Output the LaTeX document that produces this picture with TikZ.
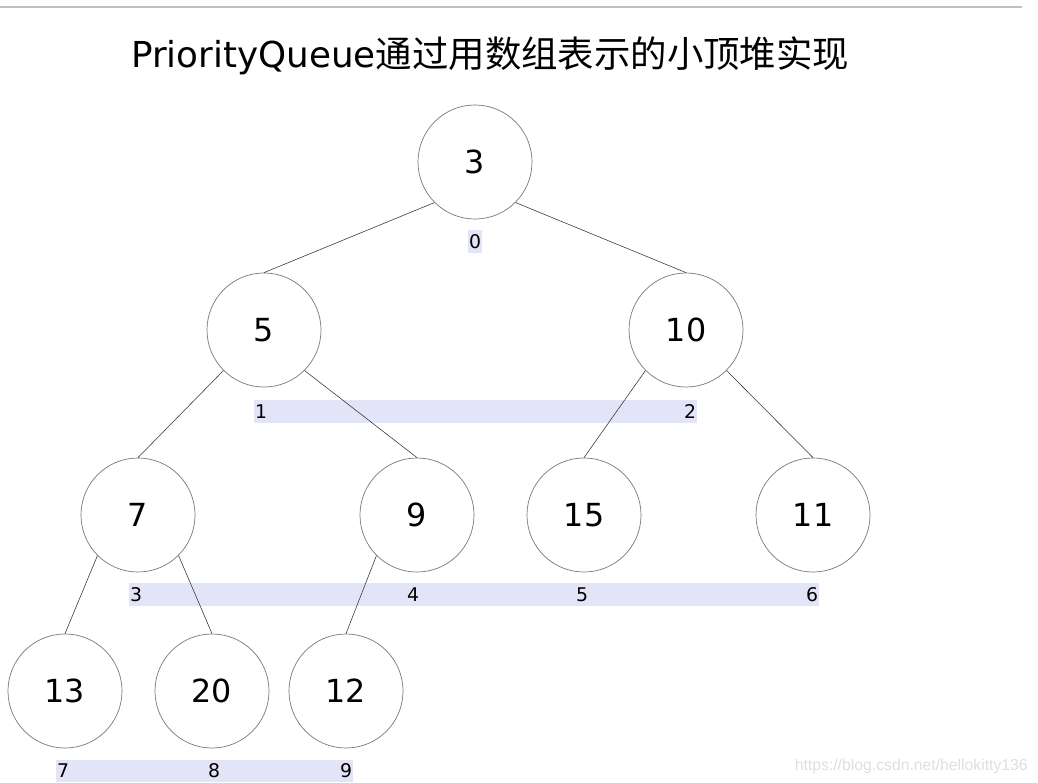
\documentclass[tikz,border=0pt]{standalone}
\usepackage{fontspec}
\setmainfont{DejaVu Sans}
\newfontfamily\cjk{Noto Sans CJK SC}
\newfontfamily\wmfont{Liberation Sans}
\usetikzlibrary{positioning,backgrounds}
\definecolor{barblue}{RGB}{228,228,248}
\definecolor{ringgray}{RGB}{120,120,120}

\begin{document}
\begin{tikzpicture}[
    x=0.025cm, y=-0.025cm,
    heapnode/.style={circle, draw=ringgray, line width=0.5pt, minimum size=2.85cm, inner sep=0pt, font=\fontsize{22.6}{23}\selectfont},
    idx/.style={inner xsep=0.4pt, inner ysep=0pt, minimum height=0.55cm, font=\fontsize{13.4}{14}\selectfont},
    edge/.style={draw=black!80, line width=0.4pt},
    bar/.style={fill=barblue}
]
\useasboundingbox (0,0) rectangle (1038,782);

% Top rule and title
\draw[black!25, line width=0.8pt] (0,7) -- (1022,7);
\node[anchor=base west, inner sep=0pt, font=\fontsize{25.4}{26}\selectfont] (title) at (131,68) {PriorityQueue{\cjk\fontsize{25.9}{26}\selectfont 通过用数组表示的小顶堆实现}};

% Heap nodes
\node[heapnode] (n0) at (475,162) {3};
\node[heapnode] (n1) at (264,330) {5};
\node[heapnode] (n2) at (686,330) {10};
\node[heapnode] (n3) at (138,515) {7};
\node[heapnode] (n4) at (417,515) {9};
\node[heapnode] (n5) at (584,515) {15};
\node[heapnode] (n6) at (813,515) {11};
\node[heapnode] (n7) at (65,691) {13};
\node[heapnode] (n8) at (212,691) {20};
\node[heapnode] (n9) at (346,691) {12};

% Array indices
\node[idx] (i0) at (475,241.5) {0};
\node[idx] (i1) at (261,411.5) {1};
\node[idx] (i2) at (690,411.5) {2};
\node[idx] (i3) at (136,594.5) {3};
\node[idx] (i4) at (413,594.5) {4};
\node[idx] (i5) at (582,594.5) {5};
\node[idx] (i6) at (812,594.5) {6};
\node[idx] (i7) at (63,771) {7};
\node[idx] (i8) at (214,771) {8};
\node[idx] (i9) at (346,771) {9};

\begin{scope}[on background layer]
\fill[bar] (i0.north west) rectangle (i0.south east);
\fill[bar] (i1.north west) rectangle (i2.south east);
\fill[bar] (i3.north west) rectangle (i6.south east);
\fill[bar] (i7.north west) rectangle (i9.south east);
\end{scope}

% Edges
\draw[edge] (n0.south west) -- (n1.north);
\draw[edge] (n0.south east) -- (n2.north);
\draw[edge] (n1.south west) -- (n3.north);
\draw[edge] (n1.south east) -- (n4.north);
\draw[edge] (n2.south west) -- (n5.north);
\draw[edge] (n2.south east) -- (n6.north);
\draw[edge] (n3.south west) -- (n7.north);
\draw[edge] (n3.south east) -- (n8.north);
\draw[edge] (n4.south west) -- (n9.north);

% Watermark
\node[anchor=base east, inner sep=0pt, text=black!13, font=\wmfont\fontsize{11.2}{12}\selectfont] (mark) at (1028,770) {https://blog.csdn.net/hellokitty136};

\end{tikzpicture}
\end{document}
